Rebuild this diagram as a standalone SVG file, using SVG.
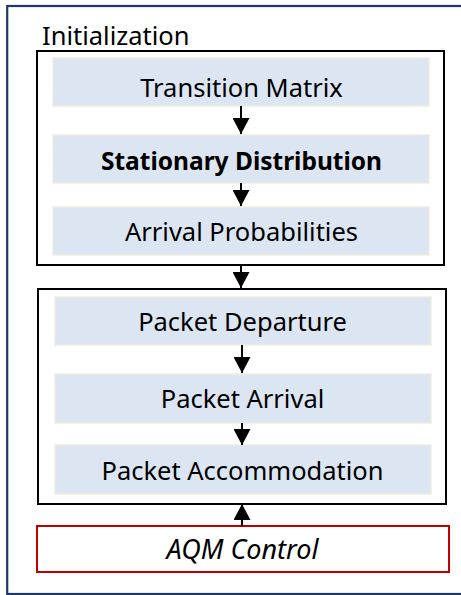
<svg xmlns="http://www.w3.org/2000/svg" width="461" height="595" viewBox="0 0 461 595">
  <defs>
    <marker id="arrow" markerWidth="17" markerHeight="17" refX="16" refY="8.5" orient="auto" markerUnits="userSpaceOnUse">
      <path d="M0,0 L16,8.5 L0,17 Z" fill="#000"/>
    </marker>
  </defs>
  <style>
    .frame { fill: none; stroke: #1f3868; stroke-width: 2.2; }
    .group { fill: #fff; stroke: #000; stroke-width: 2; }
    .step { fill: #dce6f2; stroke: #eeece1; stroke-width: 1.5; }
    .ctrl { fill: #fff; stroke: #c00000; stroke-width: 2; }
    .label { font-family: "Noto Sans", "Open Sans", sans-serif; font-size: 25.5px; fill: #000; text-anchor: middle; }
    .title { font-family: "Noto Sans", "Open Sans", sans-serif; font-size: 25.5px; fill: #000; }
    .bold { font-weight: bold; font-size: 24.5px; }
    .ital { font-style: italic; font-size: 27px; }
    .conn { stroke: #000; stroke-width: 2; fill: none; marker-end: url(#arrow); }
  </style>

  <rect width="461" height="595" fill="#fff"/>
  <!-- outer frame -->
  <rect class="frame" x="7.2" y="6" width="470" height="588"/>
  <text class="title" x="42" y="45">Initialization</text>

  <!-- initialization block -->
  <g id="init-block">
    <rect class="group" x="37" y="51" width="407" height="214"/>
  </g>
  <g id="transition-matrix">
    <rect class="step" x="53" y="58" width="376" height="48"/>
    <text class="label" x="241.5" y="97">Transition Matrix</text>
  </g>
  <g id="stationary-distribution">
    <rect class="step" x="53" y="135" width="376" height="48"/>
    <text class="label bold" x="241.5" y="169.5">Stationary Distribution</text>
  </g>
  <g id="arrival-probabilities">
    <rect class="step" x="53" y="207" width="376" height="48"/>
    <text class="label" x="241.5" y="240.5">Arrival Probabilities</text>
  </g>

  <!-- packet processing block -->
  <g id="packet-block">
    <rect class="group" x="38" y="289" width="408" height="215"/>
  </g>
  <g id="packet-departure">
    <rect class="step" x="55" y="297" width="376" height="48"/>
    <text class="label" x="242.5" y="331">Packet Departure</text>
  </g>
  <g id="packet-arrival">
    <rect class="step" x="55" y="374" width="376" height="49"/>
    <text class="label" x="242.5" y="408">Packet Arrival</text>
  </g>
  <g id="packet-accommodation">
    <rect class="step" x="55" y="445" width="376" height="49"/>
    <text class="label" x="242.5" y="479.5">Packet Accommodation</text>
  </g>

  <g id="aqm-control">
    <rect class="ctrl" x="37" y="526" width="412" height="46"/>
    <text class="label ital" x="242.5" y="559">AQM Control</text>
  </g>

  <g id="connectors">
    <line class="conn" x1="241" y1="106" x2="241" y2="134"/>
    <line class="conn" x1="241" y1="183" x2="241" y2="206"/>
    <line class="conn" x1="241" y1="265" x2="241" y2="288"/>
    <line class="conn" x1="242" y1="345" x2="242" y2="373"/>
    <line class="conn" x1="242" y1="423" x2="242" y2="445"/>
    <line class="conn" x1="242" y1="526" x2="242" y2="504"/>
  </g>
</svg>
